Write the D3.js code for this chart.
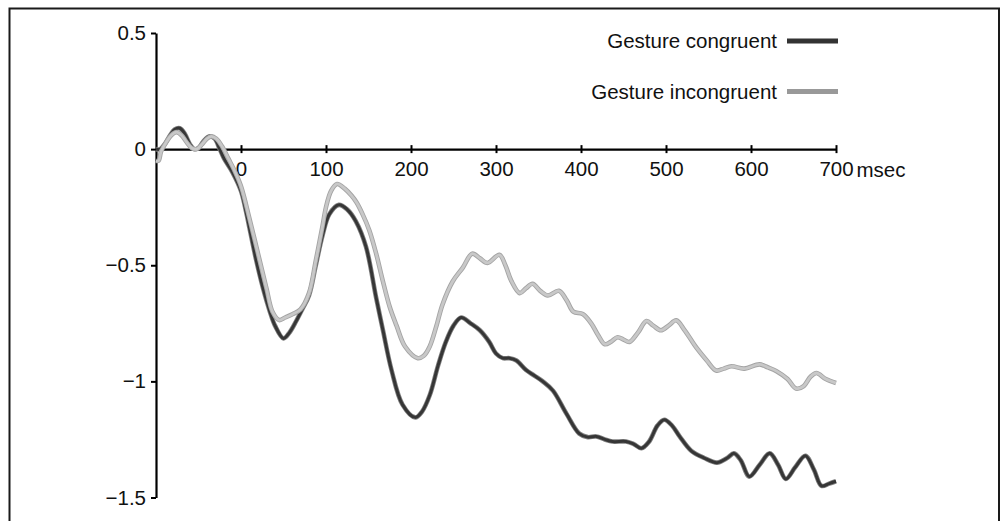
<!DOCTYPE html>
<html>
<head>
<meta charset="utf-8">
<title>Gesture ERP</title>
<script src="https://cdn.jsdelivr.net/npm/d3@7"></script>
<style>
  body { margin: 0; background: #fff; }
  text { font-family: "Liberation Sans", Arial, Helvetica, sans-serif; fill: #111; }
</style>
</head>
<body>
<script>
// time points (msec) and amplitudes
var congruentTime = [-100, -95, -90, -85, -78, -72, -66, -60, -55, -50, -44, -37, -31, -25, -20, -10, 0, 6, 10, 18, 26, 34, 40, 50, 57, 65, 72, 80, 88, 96, 104, 115, 125, 135, 147, 159, 167, 177, 190, 205, 213, 222, 232, 241, 250, 259, 270, 281, 292, 300, 308, 316, 324, 335, 345, 355, 367, 383, 398, 408, 418, 428, 437, 453, 462, 471, 480, 490, 498, 507, 516, 530, 545, 560, 572, 580, 588, 598, 610, 622, 632, 641, 652, 664, 674, 683, 692, 700];
var congruentVals = [0.0, 0.0, 0.02, 0.05, 0.085, 0.09, 0.065, 0.02, 0.0, 0.005, 0.035, 0.055, 0.045, 0.0, -0.04, -0.1, -0.18, -0.27, -0.34, -0.48, -0.6, -0.7, -0.76, -0.815, -0.79, -0.74, -0.69, -0.63, -0.5, -0.37, -0.28, -0.24, -0.26, -0.31, -0.42, -0.64, -0.78, -0.95, -1.1, -1.155, -1.13, -1.06, -0.93, -0.83, -0.76, -0.725, -0.75, -0.78, -0.83, -0.88, -0.9, -0.9, -0.91, -0.95, -0.975, -1.0, -1.04, -1.14, -1.225, -1.24, -1.237, -1.25, -1.259, -1.259, -1.27, -1.288, -1.26, -1.19, -1.165, -1.19, -1.237, -1.3, -1.33, -1.35, -1.33, -1.31, -1.34, -1.41, -1.36, -1.31, -1.36, -1.42, -1.37, -1.32, -1.38, -1.45, -1.44, -1.43];

var incongruentTime = [-100, -97, -94, -88, -82, -76, -70, -64, -58, -52, -46, -40, -35, -29, -22, -15, -8, 0, 10, 22, 30, 37, 45, 52, 61, 70, 80, 88, 96, 100, 106, 113, 122, 130, 136, 143, 151, 159, 167, 175, 183, 193, 208, 215, 222, 230, 237, 249, 261, 272, 281, 290, 304, 311, 318, 328, 335, 343, 352, 361, 374, 383, 391, 402, 412, 420, 428, 435, 443, 450, 457, 467, 477, 485, 494, 503, 512, 522, 536, 548, 559, 568, 577, 592, 610, 620, 630, 643, 653, 662, 670, 677, 688, 700];
var incongruentVals = [-0.05, -0.05, -0.01, 0.03, 0.06, 0.073, 0.06, 0.03, 0.005, 0.0, 0.02, 0.045, 0.055, 0.045, 0.01, -0.04, -0.09, -0.16, -0.3, -0.48, -0.6, -0.7, -0.736, -0.725, -0.71, -0.69, -0.62, -0.48, -0.33, -0.25, -0.18, -0.15, -0.17, -0.2, -0.23, -0.28, -0.35, -0.45, -0.57, -0.68, -0.76, -0.85, -0.9, -0.89, -0.85, -0.76, -0.67, -0.57, -0.51, -0.45, -0.47, -0.49, -0.455, -0.5, -0.567, -0.62, -0.6, -0.58, -0.61, -0.63, -0.61, -0.65, -0.7, -0.71, -0.75, -0.8, -0.84, -0.83, -0.81, -0.82, -0.83, -0.79, -0.74, -0.76, -0.78, -0.76, -0.737, -0.78, -0.856, -0.91, -0.953, -0.945, -0.935, -0.945, -0.927, -0.94, -0.956, -0.99, -1.031, -1.02, -0.98, -0.964, -0.99, -1.007];

var xTicks = [0, 100, 200, 300, 400, 500, 600, 700];
var yTicks = [0.5, 0, -0.5, -1, -1.5];
var seriesNames = ["Gesture congruent", "Gesture incongruent"];

var svgWidth = 1001;
var svgHeight = 521;
var fontSize = 20.5;

var svg = d3.select("body")
    .append("svg")
    .attr("width", svgWidth)
    .attr("height", svgHeight);

// frame around the figure (no bottom edge)
svg.append("path")
    .attr("d", "M9.5,521V8.5H999V521")
    .attr("fill", "none")
    .attr("stroke", "#1a1a1a")
    .attr("stroke-width", 2);

var xScale = d3.scaleLinear().domain([-100, 700]).range([156, 836]);
var yScale = d3.scaleLinear().domain([-1.5, 0.5]).range([497.5, 33]);

// y axis on the left
var yAxis = d3.axisLeft(yScale)
    .tickValues(yTicks)
    .tickSizeInner(5)
    .tickSizeOuter(0)
    .tickPadding(5)
    .tickFormat(function (d) { return d === 0 ? "0" : d3.format("")(d).replace("-", "\u2212"); });

var gy = svg.append("g")
    .attr("transform", "translate(" + xScale(-100) + ",0)")
    .call(yAxis);
gy.select(".domain").attr("stroke", "#000").attr("stroke-width", 2.2);
gy.selectAll(".tick line").attr("stroke", "#000").attr("stroke-width", 2);
gy.selectAll(".tick text").attr("font-size", fontSize);

// x axis runs along zero, ticks cross the line
var xAxis = d3.axisBottom(xScale)
    .tickValues(xTicks)
    .tickSizeInner(4)
    .tickSizeOuter(0)
    .tickPadding(8);

var gx = svg.append("g")
    .attr("transform", "translate(0," + yScale(0) + ")")
    .call(xAxis);
gx.select(".domain").attr("stroke", "#000").attr("stroke-width", 2.2);
gx.selectAll(".tick line").attr("y1", -4).attr("stroke", "#000").attr("stroke-width", 2);
gx.selectAll(".tick text").attr("font-size", fontSize);

svg.append("text")
    .attr("x", xScale(700) + 20.5)
    .attr("y", yScale(0) + 28)
    .attr("font-size", fontSize)
    .text("msec");

var line = d3.line()
    .x(function (d) { return xScale(d[0]); })
    .y(function (d) { return yScale(d[1]); })
    .curve(d3.curveCatmullRom.alpha(0.5));

var congruent = d3.zip(congruentTime, congruentVals);
var incongruent = d3.zip(incongruentTime, incongruentVals);

// each trace has a soft edge, so draw a wide under stroke then the core
svg.append("path").datum(congruent)
    .attr("d", line).attr("fill", "none")
    .attr("stroke", "#808080").attr("stroke-width", 4.6);
svg.append("path").datum(congruent)
    .attr("d", line).attr("fill", "none")
    .attr("stroke", "#363636").attr("stroke-width", 3);

svg.append("path").datum(incongruent)
    .attr("d", line).attr("fill", "none")
    .attr("stroke", "#a4a4a4").attr("stroke-width", 4.6);
svg.append("path").datum(incongruent)
    .attr("d", line).attr("fill", "none")
    .attr("stroke", "#c8c8c8").attr("stroke-width", 2.8);

// legend, top right
var legendColors = ["#333", "#999"];
var legend = svg.selectAll(".legend")
    .data(seriesNames)
    .enter().append("g")
    .attr("class", "legend")
    .attr("transform", function (d, i) { return "translate(0," + (41 + i * 50.5) + ")"; });

legend.append("line")
    .attr("x1", 787).attr("x2", 838)
    .attr("stroke", function (d, i) { return legendColors[i]; })
    .attr("stroke-width", 5);

legend.append("text")
    .attr("x", 777)
    .attr("y", 7)
    .attr("font-size", fontSize)
    .attr("text-anchor", "end")
    .text(function (d) { return d; });
</script>
</body>
</html>
